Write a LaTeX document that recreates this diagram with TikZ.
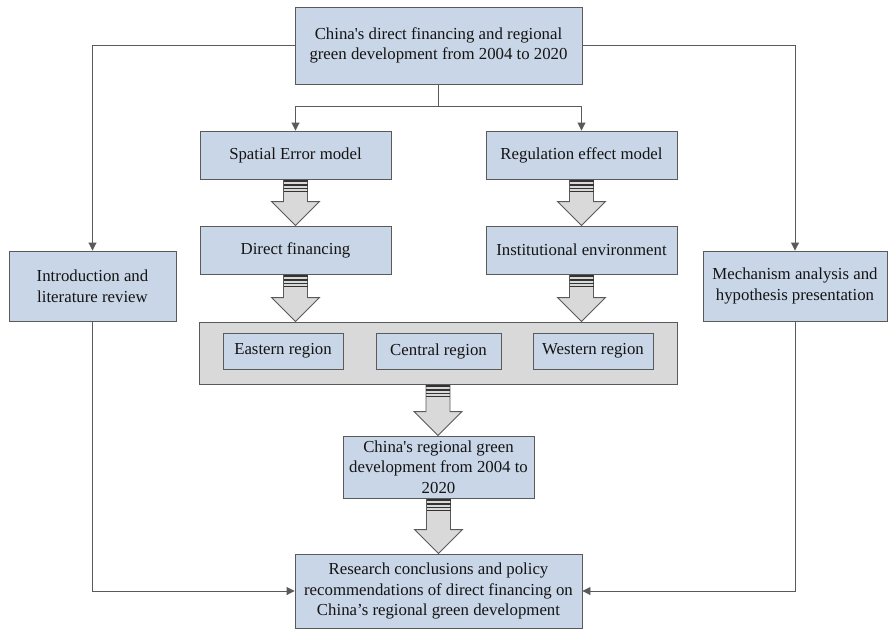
\documentclass[tikz,border=0pt]{standalone}
\usepackage{fontspec}
\setmainfont{Liberation Serif}[Ligatures=TeXOff]
\usetikzlibrary{arrows.meta,calc}
\definecolor{boxblue}{RGB}{201,214,231}
\definecolor{boxline}{RGB}{90,90,90}
\definecolor{panelgray}{RGB}{217,217,217}
\definecolor{txt}{RGB}{20,20,20}
\tikzset{
  bbox/.style={draw=boxline, fill=boxblue, line width=0.9pt, inner sep=0pt, align=center,
     text=txt, font=\fontsize{16.8}{20.5}\selectfont},
  panel/.style={draw=boxline, fill=panelgray, line width=0.9pt, inner sep=0pt},
  conn/.style={draw=boxline, line width=0.9pt, -{Triangle[width=8pt,length=8pt]}},
  plain/.style={draw=boxline, line width=0.9pt},
  barrowstyle/.style={draw=boxline, fill=panelgray, line width=0.9pt, line join=miter},
  stripe/.style={draw=black!80, line width=1.1pt}
}
\newcommand\bigarrow[2]{%
  \path[barrowstyle] let \p1=(#1), \p2=(#2) in
    (\x1-12pt,\y1) -- (\x1+12pt,\y1) -- (\x1+12pt,\y2+24pt) -- (\x1+24pt,\y2+24pt)
    -- (\x1,\y2) -- (\x1-24pt,\y2+24pt) -- (\x1-12pt,\y2+24pt) -- cycle;
  \path[stripe] let \p1=(#1) in
    (\x1-12pt,\y1-1.5pt) -- ++(24pt,0)
    (\x1-12pt,\y1-5.5pt) -- ++(24pt,0)
    (\x1-12pt,\y1-9pt) -- ++(24pt,0)
    (\x1-12pt,\y1-12pt) -- ++(24pt,0);
}
\begin{document}
\begin{tikzpicture}[x=1pt,y=-1pt]
\useasboundingbox[fill=white] (0,0) rectangle (888,629);

\node[bbox, minimum width=287pt, minimum height=77pt] (top) at (438.5,45.5)
  {China's direct financing and regional\\green development from 2004 to 2020};
\node[bbox, minimum width=191pt, minimum height=48pt] (sem) at (295.5,155) {Spatial Error model};
\node[bbox, minimum width=191pt, minimum height=48pt] (reg) at (581.5,155) {Regulation effect model};
\node[bbox, minimum width=191pt, minimum height=48pt] (dir) at (295.5,250) {Direct financing};
\node[bbox, minimum width=191pt, minimum height=48pt] (inst) at (581.5,250) {Institutional environment};

\node[panel, minimum width=478pt, minimum height=62pt] (panel) at (438,353) {};
\node[bbox, minimum width=120pt, minimum height=36pt] (east) at (283,351) {Eastern region};
\node[bbox, minimum width=125pt, minimum height=36pt] (cent) at (438.5,351) {Central region};
\node[bbox, minimum width=120pt, minimum height=36pt] (west) at (593,351) {Western region};

\node[bbox, minimum width=191pt, minimum height=62pt] (rgd) at (438.5,467)
  {China's regional green\\development from 2004 to\\2020};
\node[bbox, minimum width=287pt, minimum height=74pt] (res) at (438.5,591)
  {Research conclusions and policy\\recommendations of direct financing on\\China’s regional green development};

\node[bbox, minimum width=167pt, minimum height=70pt] (intro) at (92.5,286)
  {Introduction and\\literature review};
\node[bbox, minimum width=184pt, minimum height=70pt] (mech) at (795,286)
  {Mechanism analysis and\\hypothesis presentation};

\coordinate (split) at (438.5,106);
\draw[plain] (top.south) -- (split);
\draw[conn] (split) -| (sem.north);
\draw[conn] (split) -| (reg.north);
\draw[conn] (top.west) -| (intro.north);
\draw[conn] (top.east) -| (mech.north);
\draw[conn] (intro.south) |- (res.west);
\draw[conn] (mech.south) |- (res.east);

\bigarrow{sem.south}{dir.north}
\bigarrow{reg.south}{inst.north}
\bigarrow{dir.south}{dir.south |- panel.north}
\bigarrow{inst.south}{inst.south |- panel.north}
\bigarrow{panel.south}{rgd.north}
\bigarrow{rgd.south}{res.north}
\end{tikzpicture}
\end{document}
